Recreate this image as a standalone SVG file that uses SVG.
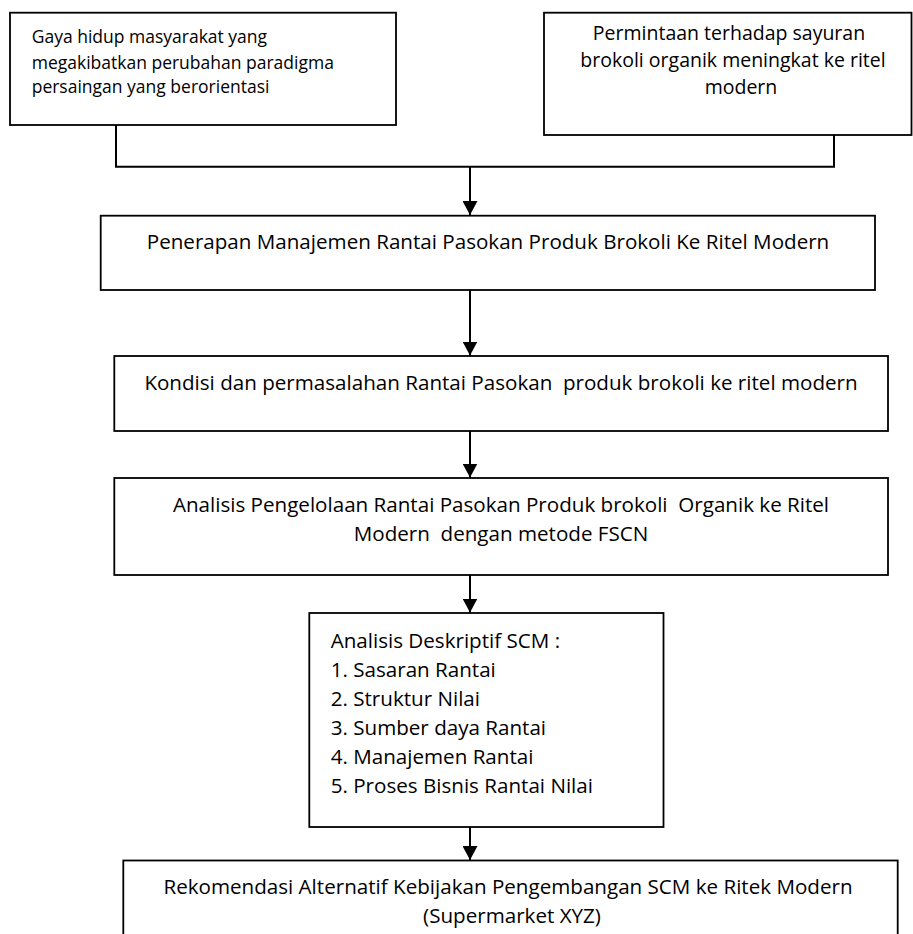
<svg xmlns="http://www.w3.org/2000/svg" width="913" height="934" viewBox="0 0 913 934">
<style>
.box{fill:#fff;stroke:#000;stroke-width:1.8}
.con{fill:none;stroke:#000;stroke-width:2}
text{font-family:"Open Sans","Liberation Sans",sans-serif;fill:#000}
.t1{font-size:17.5px}
.t2{font-size:19.5px}
.t3{font-size:20.6px}
.mid{text-anchor:middle}
</style>
<defs>
<marker id="ah" markerUnits="userSpaceOnUse" viewBox="0 0 14 15" markerWidth="14" markerHeight="15" refX="14" refY="7.5" orient="auto">
<path d="M0,0 L14,7.5 L0,15 z" fill="#000"/>
</marker>
</defs>
<rect width="913" height="934" fill="#fff"/>
<g id="connectors">
<polyline class="con" points="116,125 116,166.7 834,166.7 834,135"/>
<line class="con" x1="470" y1="166.7" x2="470" y2="215" marker-end="url(#ah)"/>
<line class="con" x1="470" y1="290" x2="470" y2="355.5" marker-end="url(#ah)"/>
<line class="con" x1="470" y1="431" x2="470" y2="477.5" marker-end="url(#ah)"/>
<line class="con" x1="470" y1="575" x2="470" y2="612.5" marker-end="url(#ah)"/>
<line class="con" x1="470" y1="827" x2="470" y2="860" marker-end="url(#ah)"/>
</g>
<g id="n1">
<rect class="box" x="10" y="12.7" width="386" height="112.3"/>
<text class="t1" x="31.7" y="43">Gaya hidup masyarakat yang</text>
<text class="t1" x="31.7" y="69">megakibatkan perubahan paradigma</text>
<text class="t1" x="31.7" y="93">persaingan yang berorientasi</text>
</g>
<g id="n2">
<rect class="box" x="544" y="12.7" width="367.5" height="122.3"/>
<text class="t2 mid" x="729" y="40">Permintaan terhadap sayuran</text>
<text class="t2 mid" x="733" y="67">brokoli organik meningkat ke ritel</text>
<text class="t2 mid" x="741" y="94">modern</text>
</g>
<g id="n3">
<rect class="box" x="100.7" y="215.7" width="774.3" height="74.3"/>
<text class="t3 mid" x="488" y="249">Penerapan Manajemen Rantai Pasokan Produk Brokoli Ke Ritel Modern</text>
</g>
<g id="n4">
<rect class="box" x="114.3" y="356" width="773.7" height="75"/>
<text class="t3 mid" x="501" y="390" xml:space="preserve">Kondisi dan permasalahan Rantai Pasokan  produk brokoli ke ritel modern</text>
</g>
<g id="n5">
<rect class="box" x="114.3" y="478" width="773.7" height="97"/>
<text class="t3 mid" x="501" y="512" xml:space="preserve">Analisis Pengelolaan Rantai Pasokan Produk brokoli  Organik ke Ritel</text>
<text class="t3 mid" x="501" y="541" xml:space="preserve">Modern  dengan metode FSCN</text>
</g>
<g id="n6">
<rect class="box" x="309.3" y="613" width="354.2" height="214"/>
<text class="t3" x="330.7" y="647.7">Analisis Deskriptif SCM :</text>
<text class="t3" x="330.7" y="676.8">1. Sasaran Rantai</text>
<text class="t3" x="330.7" y="705.9">2. Struktur Nilai</text>
<text class="t3" x="330.7" y="735">3. Sumber daya Rantai</text>
<text class="t3" x="330.7" y="764.1">4. Manajemen Rantai</text>
<text class="t3" x="330.7" y="793.2">5. Proses Bisnis Rantai Nilai</text>
</g>
<g id="n7">
<rect class="box" x="123.3" y="860.5" width="774.4" height="100"/>
<text class="t3 mid" x="508" y="894">Rekomendasi Alternatif Kebijakan Pengembangan SCM ke Ritek Modern</text>
<text class="t3 mid" x="512" y="923">(Supermarket XYZ)</text>
</g>
</svg>
